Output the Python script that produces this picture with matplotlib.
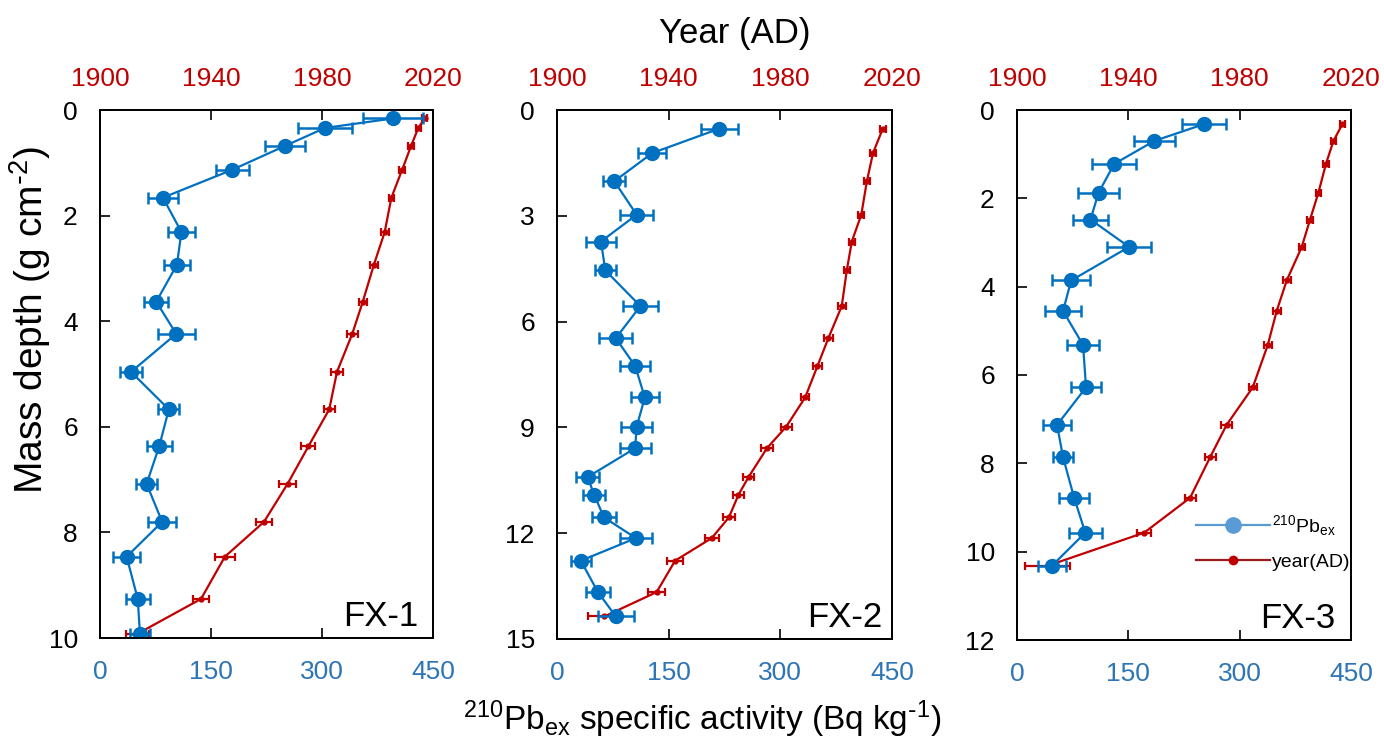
import numpy as np
import matplotlib.pyplot as plt
from matplotlib.lines import Line2D

plt.rcParams['font.family'] = ['Liberation Sans', 'DejaVu Sans']
plt.rcParams['mathtext.default'] = 'regular'

# FX-1
depth1 = [0.16, 0.34, 0.68, 1.13, 1.66, 2.31, 2.93, 3.63, 4.24, 4.96, 5.67, 6.37, 7.08, 7.80, 8.46, 9.26, 9.92]
pb1 = [396, 304, 250, 179, 85, 110, 104, 76, 103, 42, 93, 80, 63, 84, 36, 51, 54]
pb1_err = [40, 36, 27, 22, 20, 18, 18, 16, 25, 15, 14, 17, 14, 19, 18, 16, 14]
year1 = [2017, 2014.7, 2012.1, 2008.9, 2005.0, 2002.6, 1998.7, 1994.7, 1990.9, 1985.4,
         1982.6, 1975.1, 1967.6, 1959.1, 1945.0, 1936.4, 1913.5]
year1_err = [1, 1, 1, 1, 1, 1.5, 1.5, 1.5, 2, 2, 2, 2.5, 3, 3, 3.5, 3, 4]

# FX-2
depth2 = [0.53, 1.22, 2.02, 2.97, 3.73, 4.55, 5.56, 6.47, 7.26, 8.15, 8.98, 9.59, 10.41, 10.91,
          11.55, 12.14, 12.78, 13.67, 14.36]
pb2 = [218, 128, 77, 107, 59, 65, 112, 79, 105, 118, 107, 105, 41, 50, 63, 106, 32, 55, 79]
pb2_err = [25, 19, 15, 22, 20, 14, 24, 22, 20, 19, 21, 21, 15, 15, 16, 22, 13, 16, 24]
year2 = [2016.7, 2013.2, 2011.0, 2009.0, 2005.6, 2003.8, 2002.0, 1997.2, 1993.3, 1988.9,
         1982.1, 1975.2, 1968.6, 1965.0, 1961.6, 1955.4, 1942.3, 1935.7, 1917]
year2_err = [1, 1, 1, 1, 1, 1, 1.5, 1.5, 1.5, 1.5, 2, 2, 2, 2, 2, 2.5, 3, 3, 6]

# FX-3
depth3 = [0.32, 0.70, 1.22, 1.87, 2.48, 3.10, 3.86, 4.55, 5.32, 6.28, 7.13, 7.86, 8.78, 9.57, 10.32]
pb3 = [252, 185, 131, 110, 99, 151, 73, 62, 89, 93, 54, 62, 77, 92, 47]
pb3_err = [30, 28, 30, 28, 24, 30, 26, 24, 21, 20, 19, 14, 20, 22, 19]
year3 = [2016.9, 2013.7, 2011.0, 2008.3, 2005.3, 2002.3, 1996.9, 1993.3, 1990.1, 1984.7,
         1975.3, 1969.4, 1962.2, 1945.7, 1911]
year3_err = [1, 1, 1, 1, 1, 1, 1.5, 1.5, 1.5, 1.5, 2, 2, 2, 2.5, 8]

cores = ['FX-1', 'FX-2', 'FX-3']
depth_max = [10, 15, 12]
depth_ticks = [[0, 2, 4, 6, 8, 10], [0, 3, 6, 9, 12, 15], [0, 2, 4, 6, 8, 10, 12]]
act_ticks = [0, 150, 300, 450]
year_ticks = [1900, 1940, 1980, 2020]

blue = '#0070C0'
red = '#C00000'

W, H = 1384, 740
fig = plt.figure(figsize=(W / 100, H / 100), dpi=100)

# panel boxes in pixels: left, right, top, bottom
boxes = [(100, 433, 110, 638), (557, 892, 110, 639), (1017, 1351, 110, 640)]
label_x = [0.955, 0.970, 0.952]
data = [(depth1, pb1, pb1_err, year1, year1_err),
        (depth2, pb2, pb2_err, year2, year2_err),
        (depth3, pb3, pb3_err, year3, year3_err)]

for i, (l, r, t, b) in enumerate(boxes):
    ax = fig.add_axes([l / W, 1 - b / H, (r - l) / W, (b - t) / H])
    ax2 = ax.twiny()
    d, pb, pbe, yr, yre = data[i]

    ax2.errorbar(yr, d, xerr=yre, color=red, marker='o', markersize=3.5, lw=1.6,
                 elinewidth=1.6, capsize=3, capthick=1.6)
    ax.errorbar(pb, d, xerr=pbe, color=blue, marker='o', markersize=10, lw=1.6,
                elinewidth=1.8, capsize=4, capthick=1.8)

    ax.set_zorder(ax2.get_zorder() + 1)
    ax.patch.set_visible(False)

    ax.set_xlim(0, 450)
    ax.set_xticks(act_ticks)
    ax.set_ylim(depth_max[i], 0)
    ax.set_yticks(depth_ticks[i])
    ax2.set_xlim(1900, 2020)
    ax2.set_xticks(year_ticks)

    ax.tick_params(axis='x', direction='in', length=7, width=1.2, pad=16,
                   labelsize=19, labelcolor='#2E75B6')
    ax.tick_params(axis='y', direction='in', length=7, width=1.2, pad=16, labelsize=19)
    ax2.tick_params(axis='x', direction='in', length=7, width=1.2, pad=14,
                    labelsize=19, labelcolor=red)
    for a in (ax, ax2):
        for s in a.spines.values():
            s.set_linewidth(1.3)

    ax.text(label_x[i], 0.022, cores[i], transform=ax.transAxes, ha='right',
            va='baseline', fontsize=25)

    if i == 2:
        handles = [Line2D([], [], color='#5B9BD5', marker='o', markersize=11, lw=1.6),
                   Line2D([], [], color='#9B1C1C', marker='o', markerfacecolor=red,
                          markeredgecolor=red, markersize=6, lw=1.6)]
        ax.legend(handles, [r'$^{210}$Pb$_{ex}$', 'year(AD)'], loc='upper left',
                  bbox_to_anchor=(0.535, 0.24), frameon=False, fontsize=14,
                  handlelength=3.8, handletextpad=0.1, labelspacing=0.8,
                  borderpad=0, borderaxespad=0)

fig.text(0.531, 0.955, 'Year (AD)', ha='center', va='center', fontsize=25)
fig.text(0.507, 0.028, r'$^{210}$Pb$_{ex}$ specific activity (Bq kg$^{\text{-}1}$)',
         ha='center', va='center', fontsize=24)
fig.text(0.022, 0.568, r'Mass depth (g cm$^{\text{-}2}$)', ha='center', va='center',
         rotation=90, fontsize=28)

fig.savefig('out.png', dpi=100)
